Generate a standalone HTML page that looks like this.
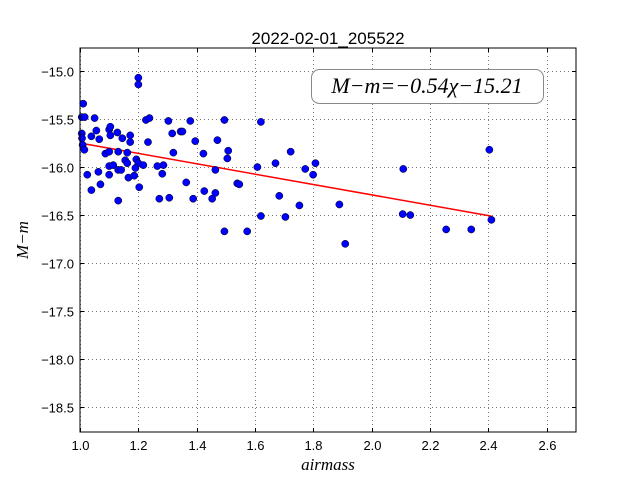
<!DOCTYPE html>
<html><head><meta charset="utf-8"><style>
body{margin:0;background:#fff;}
svg text{font-family:"Liberation Sans",sans-serif;}
.tk{font-size:13px;fill:#000;}
.m{font-family:"Liberation Serif","DejaVu Serif",serif;font-style:italic;}
</style></head><body>
<svg id="chart" width="640" height="480" xmlns="http://www.w3.org/2000/svg">
<rect x="0" y="0" width="640" height="480" fill="#fff"/>
<g id="grid"></g>
<g id="ticks"></g>
<g id="fit"></g>
<g id="pts"></g>
<rect x="80" y="48" width="496" height="384" fill="none" stroke="#000" stroke-width="1"/>
<text x="328" y="44" text-anchor="middle" font-size="17">2022-02-01_205522</text>
<rect x="311.5" y="69.5" width="232" height="34" rx="8" fill="#fff" stroke="#888" stroke-width="1"/>
<text x="427" y="93" text-anchor="middle" font-size="22" class="m">M−m=−0.54χ−15.21</text>
<text x="328" y="470" text-anchor="middle" font-size="17" class="m">airmass</text>
<text transform="translate(28,240) rotate(-90)" text-anchor="middle" font-size="17" class="m">M−m</text>
</svg>
<script>
const xTicks=[1.0,1.2,1.4,1.6,1.8,2.0,2.2,2.4,2.6];
const yTicks=[-15.0,-15.5,-16.0,-16.5,-17.0,-17.5,-18.0,-18.5];
const slope=-0.54;
const intercept=-15.21;
const airmass=[1.345,1.378,1.495,1.620,1.395,1.471,1.423,1.508,1.505,1.722,1.670,1.807,1.608,1.464,1.772,1.799,2.108,2.403,1.364,1.539,1.546,1.426,1.464,1.388,1.453,1.683,1.752,1.889,1.620,1.704,2.106,2.132,1.495,1.573,2.255,2.341,2.410,1.909,
1.200,1.200,1.011,1.006,1.016,1.050,1.226,1.238,1.303,1.006,1.007,1.039,1.056,1.066,1.100,1.104,1.104,1.128,1.145,1.172,1.172,1.233,1.316,1.351,1.009,1.015,1.087,1.100,1.131,1.162,1.320,1.155,1.162,1.193,1.200,1.217,1.190,1.100,1.114,1.131,1.141,1.100,1.063,1.025,1.166,1.186,1.265,1.286,1.282,1.070,1.039,1.203,1.131,1.272,1.306];
const mag=[-15.63,-15.52,-15.51,-15.53,-15.73,-15.72,-15.86,-15.83,-15.91,-15.84,-15.96,-15.96,-16.00,-16.03,-16.02,-16.08,-16.02,-15.82,-16.16,-16.17,-16.18,-16.25,-16.27,-16.33,-16.33,-16.30,-16.40,-16.39,-16.51,-16.52,-16.49,-16.50,-16.67,-16.67,-16.65,-16.65,-16.55,-16.80,
-15.07,-15.14,-15.34,-15.48,-15.48,-15.49,-15.51,-15.49,-15.52,-15.65,-15.70,-15.68,-15.62,-15.71,-15.61,-15.58,-15.67,-15.64,-15.70,-15.67,-15.74,-15.74,-15.65,-15.63,-15.77,-15.82,-15.86,-15.84,-15.84,-15.85,-15.85,-15.93,-15.96,-15.92,-15.96,-15.98,-16.01,-15.99,-15.98,-16.03,-16.03,-16.08,-16.05,-16.08,-16.11,-16.09,-15.99,-15.98,-16.07,-16.18,-16.24,-16.21,-16.35,-16.33,-16.32];
const X0=80,X1=576,Y0=48,Y1=432,xmin=1.0,xmax=2.7,ymax=-14.76,ymin=-18.76;
const sx=v=>X0+(v-xmin)/(xmax-xmin)*(X1-X0);
const sy=v=>Y0+(ymax-v)/(ymax-ymin)*(Y1-Y0);
const NS="http://www.w3.org/2000/svg";
function mk(t,a,p){const e=document.createElementNS(NS,t);for(const k in a)e.setAttribute(k,a[k]);p.appendChild(e);return e;}
const grid=document.getElementById('grid'),ticks=document.getElementById('ticks');
xTicks.forEach(v=>{const x=Math.round(sx(v))+0.5;
 const g=mk('line',{x1:x,x2:x,y1:Y0,y2:Y1,stroke:'#777','stroke-dasharray':'1,3'},grid);
 
 
 mk('line',{x1:x,x2:x,y1:Y1,y2:Y1-4,stroke:'#000'},ticks);mk('line',{x1:x,x2:x,y1:Y0,y2:Y0+4,stroke:'#000'},ticks);
 const t=mk('text',{x:x,y:Y1+18,'text-anchor':'middle',class:'tk'},ticks);t.textContent=v.toFixed(1);
 
 });
yTicks.forEach(v=>{const y=Math.round(sy(v))+0.5;
 const g=mk('line',{x1:X0,x2:X1,y1:y,y2:y,stroke:'#777','stroke-dasharray':'1,3'},grid);
 
 
 mk('line',{x1:X0,x2:X0+4,y1:y,y2:y,stroke:'#000'},ticks);mk('line',{x1:X1,x2:X1-4,y1:y,y2:y,stroke:'#000'},ticks);
 const t=mk('text',{x:X0-6,y:y+5,'text-anchor':'end',class:'tk'},ticks);t.textContent='\u2212'+Math.abs(v).toFixed(1);
 
 });
const pts=document.getElementById('pts');
airmass.forEach((a,i)=>{const c=mk('circle',{cx:sx(a),cy:sy(mag[i]),r:3.6,fill:'#0000ff',stroke:'#000','stroke-width':0.5},pts);
 
 });
const lo=Math.min(...airmass),hi=Math.max(...airmass);
const l=mk('line',{x1:sx(lo),y1:sy(slope*lo+intercept),x2:sx(hi),y2:sy(slope*hi+intercept),stroke:'#ff0000','stroke-width':1.5},document.getElementById('fit'));


</script>
</body></html>
